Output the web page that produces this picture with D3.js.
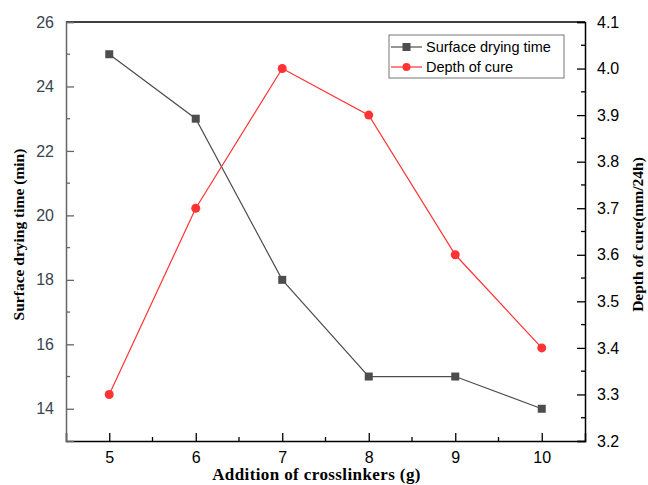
<!DOCTYPE html>
<html>
<head>
<meta charset="utf-8">
<script src="https://cdn.jsdelivr.net/npm/d3@7"></script>
<style>
body { margin: 0; background: #fff; }
</style>
</head>
<body>
<div id="chart"></div>
<script>
var svgWidth = 648, svgHeight = 485;
var margin = {top: 22, right: 63, bottom: 44, left: 66};
var chartWidth = svgWidth - margin.left - margin.right;
var chartHeight = svgHeight - margin.top - margin.bottom;

// Data
var crosslinkers = [5, 6, 7, 8, 9, 10];
var dryingTime = [25, 23, 18, 15, 15, 14];
var cureDepth = [3.3, 3.7, 4.0, 3.9, 3.6, 3.4];
var leftTicks = [14, 16, 18, 20, 22, 24, 26];
var rightTicks = [3.2, 3.3, 3.4, 3.5, 3.6, 3.7, 3.8, 3.9, 4.0, 4.1];

var svg = d3.select("#chart").append("svg")
    .attr("width", svgWidth)
    .attr("height", svgHeight);

var chartGroup = svg.append("g")
    .attr("transform", `translate(${margin.left}, ${margin.top})`);

var xScale = d3.scaleLinear().domain([4.5, 10.5]).range([0, chartWidth]);
var yLeft = d3.scaleLinear().domain([13, 26]).range([chartHeight, 0]);
var yRight = d3.scaleLinear().domain([3.2, 4.1]).range([chartHeight, 0]);

// top frame line
chartGroup.append("line")
    .attr("x1", 0).attr("x2", chartWidth)
    .attr("y1", 0).attr("y2", 0)
    .attr("stroke", "#000").attr("stroke-width", 1.5);

// minor ticks
function minor(g, ticks, scale, orient) {
    g.selectAll("line.minor").data(ticks).enter().append("line")
        .attr("class", "minor")
        .each(function(d) {
            var s = d3.select(this);
            if (orient === "bottom") s.attr("x1", scale(d)).attr("x2", scale(d)).attr("y1", 0).attr("y2", -4);
            if (orient === "left") s.attr("y1", scale(d)).attr("y2", scale(d)).attr("x1", 0).attr("x2", 4);
            if (orient === "right") s.attr("y1", scale(d)).attr("y2", scale(d)).attr("x1", 0).attr("x2", -4);
        });
}

var xAxis = d3.axisBottom(xScale).tickValues(crosslinkers).tickSize(-8).tickPadding(11).tickFormat(d3.format("d"));
var xg = chartGroup.append("g")
    .attr("transform", `translate(0, ${chartHeight})`)
    .call(xAxis);
minor(xg, [5.5, 6.5, 7.5, 8.5, 9.5], xScale, "bottom");
xg.select(".domain").attr("stroke", "#000").attr("stroke-width", 1.5);
xg.selectAll("line").attr("stroke", "#000").attr("stroke-width", 1.3);
xg.selectAll("text").attr("font-family", "Arial, 'Liberation Sans'").attr("font-size", 16).attr("fill", "#000");

var yAxisL = d3.axisLeft(yLeft).tickValues(leftTicks).tickSize(-8).tickPadding(12);
var lg = chartGroup.append("g").call(yAxisL);
minor(lg, [15, 17, 19, 21, 23, 25], yLeft, "left");
lg.select(".domain").attr("stroke", "#666").attr("stroke-width", 1.5);
lg.selectAll("line").attr("stroke", "#666").attr("stroke-width", 1.3);
lg.selectAll("text").attr("font-family", "Arial, 'Liberation Sans'").attr("font-size", 16).attr("fill", "#3a4450");

var yAxisR = d3.axisRight(yRight).tickValues(rightTicks).tickSize(-8).tickPadding(12).tickFormat(d3.format(".1f"));
var rg = chartGroup.append("g")
    .attr("transform", `translate(${chartWidth}, 0)`)
    .call(yAxisR);
minor(rg, d3.range(3.25, 4.1, 0.1), yRight, "right");
rg.select(".domain").attr("stroke", "#000").attr("stroke-width", 1.5);
rg.selectAll("line").attr("stroke", "#000").attr("stroke-width", 1.3);
rg.selectAll("text").attr("font-family", "Arial, 'Liberation Sans'").attr("font-size", 16).attr("fill", "#000");

// Surface drying time line
var greyColor = "#4d4d4d";
var redColor = "#ff3333";
var lineL = d3.line().x((d, i) => xScale(crosslinkers[i])).y(d => yLeft(d));
chartGroup.append("path")
    .datum(dryingTime)
    .attr("d", lineL)
    .attr("fill", "none")
    .attr("stroke", greyColor)
    .attr("stroke-width", 1.2);
chartGroup.append("g").selectAll("rect")
    .data(dryingTime)
    .enter()
    .append("rect")
    .attr("x", (d, i) => xScale(crosslinkers[i]) - 4)
    .attr("y", d => yLeft(d) - 4)
    .attr("width", 8)
    .attr("height", 8)
    .attr("fill", greyColor);

// Depth of cure line
var lineR = d3.line().x((d, i) => xScale(crosslinkers[i])).y(d => yRight(d));
chartGroup.append("path")
    .datum(cureDepth)
    .attr("d", lineR)
    .attr("fill", "none")
    .attr("stroke", redColor)
    .attr("stroke-width", 1.2);
chartGroup.append("g").selectAll("circle")
    .data(cureDepth)
    .enter()
    .append("circle")
    .attr("cx", (d, i) => xScale(crosslinkers[i]))
    .attr("cy", d => yRight(d))
    .attr("r", 4.5)
    .attr("fill", redColor);

// Legend
var legend = svg.append("g").attr("transform", "translate(389, 35)");
legend.append("rect")
    .attr("width", 175).attr("height", 43)
    .attr("fill", "#fff").attr("stroke", "#777").attr("stroke-width", 1);
var entries = [
    {name: "Surface drying time", color: greyColor, shape: "square"},
    {name: "Depth of cure", color: redColor, shape: "circle"}
];
entries.forEach(function(e, i) {
    var y = 12 + i * 20;
    legend.append("line")
        .attr("x1", 2).attr("x2", 33).attr("y1", y).attr("y2", y)
        .attr("stroke", e.color).attr("stroke-width", 1.2);
    if (e.shape === "square") {
        legend.append("rect").attr("x", 13.5).attr("y", y - 4).attr("width", 8).attr("height", 8).attr("fill", e.color);
    } else {
        legend.append("circle").attr("cx", 17.5).attr("cy", y).attr("r", 4).attr("fill", e.color);
    }
    legend.append("text")
        .attr("x", 37).attr("y", y + 5)
        .attr("font-family", "Arial, 'Liberation Sans'")
        .attr("font-size", 14.5)
        .attr("fill", "#000")
        .text(e.name);
});

// Axis labels
chartGroup.append("text")
    .attr("transform", `translate(${-margin.left + 24}, ${chartHeight / 2 + 3}) rotate(-90)`)
    .attr("text-anchor", "middle")
    .attr("font-family", "'Times New Roman', 'Liberation Serif', serif")
    .attr("font-weight", "bold")
    .attr("font-size", 15.5)
    .text("Surface drying time (min)");

chartGroup.append("text")
    .attr("transform", `translate(${chartWidth + 58}, ${chartHeight / 2 + 3}) rotate(-90)`)
    .attr("text-anchor", "middle")
    .attr("font-family", "'Times New Roman', 'Liberation Serif', serif")
    .attr("font-weight", "bold")
    .attr("font-size", 15.5)
    .text("Depth of cure(mm/24h)");

chartGroup.append("text")
    .attr("transform", `translate(${chartWidth / 2 - 9}, ${chartHeight + 39})`)
    .attr("text-anchor", "middle")
    .attr("font-family", "'Times New Roman', 'Liberation Serif', serif")
    .attr("font-weight", "bold")
    .attr("font-size", 17)
    .attr("letter-spacing", 0.4)
    .text("Addition of crosslinkers (g)");
</script>
</body>
</html>
